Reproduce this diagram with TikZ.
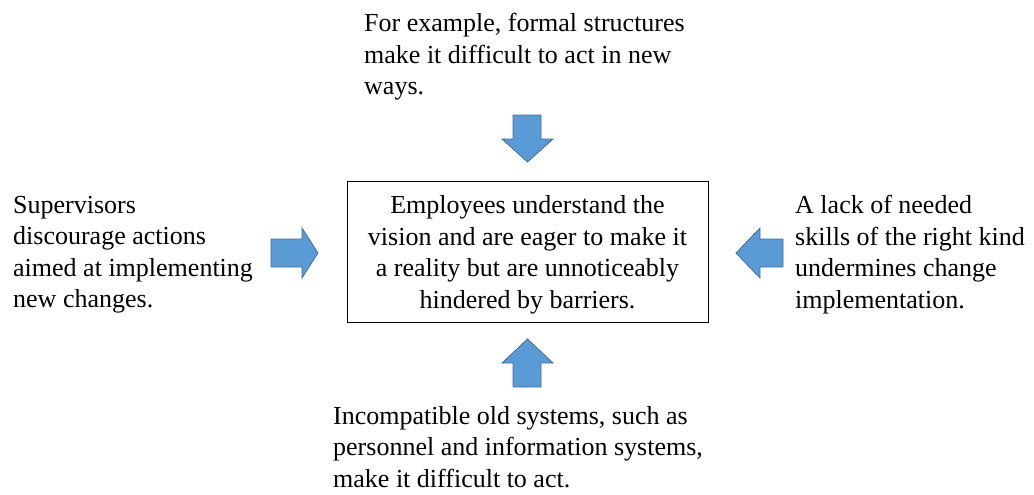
\documentclass[tikz,border=0pt]{standalone}
\usepackage{fontspec}
\setmainfont{Liberation Serif}
\definecolor{arrfill}{HTML}{5B9BD5}
\definecolor{arrline}{HTML}{41719C}
\begin{document}
\begin{tikzpicture}[x=1pt,y=-1pt,
  txt/.style={anchor=north west,inner sep=0pt,align=left,font=\fontsize{26}{31.5}\selectfont},
  mainbox/.style={draw=black,line width=1pt,minimum width=361pt,minimum height=141pt,inner sep=0pt},
  ctxt/.style={inner sep=0pt,align=center,font=\fontsize{26}{31.5}\selectfont},
  blockarrow/.style={fill=arrfill,draw=arrline,line width=0.8pt,line join=miter}]
\useasboundingbox (0,0) rectangle (1034,495);
\node[mainbox] (center) at (527.5,251.5) {};
\node[ctxt] (centertext) at (527.5,255) {Employees understand the\\vision and are eager to make it\\a reality but are unnoticeably\\hindered by barriers.};
\node[txt] (top) at (364,13) {For example, formal structures\\make it difficult to act in new\\ways.};
\node[txt] (left) at (13,196) {Supervisors\\discourage actions\\aimed at implementing\\new changes.};
\node[txt] (right) at (795,195) {A lack of needed\\skills of the right kind\\undermines change\\implementation.};
\node[txt] (bottom) at (333,406) {Incompatible old systems, such as\\personnel and information systems,\\make it difficult to act.};
% down arrow
\draw[blockarrow] (513,115) -- (541,115) -- (541,139) -- (553,139) -- (527.5,162) -- (502,139) -- (513,139) -- cycle;
% up arrow
\draw[blockarrow] (513,387) -- (541,387) -- (541,363) -- (553,363) -- (527.5,339) -- (502,363) -- (513,363) -- cycle;
% right arrow
\draw[blockarrow] (271,239) -- (302,239) -- (302,228) -- (318,253) -- (302,278) -- (302,267) -- (271,267) -- cycle;
% left arrow
\draw[blockarrow] (783,239) -- (760,239) -- (760,228) -- (736,253) -- (760,278) -- (760,267) -- (783,267) -- cycle;
\end{tikzpicture}
\end{document}
